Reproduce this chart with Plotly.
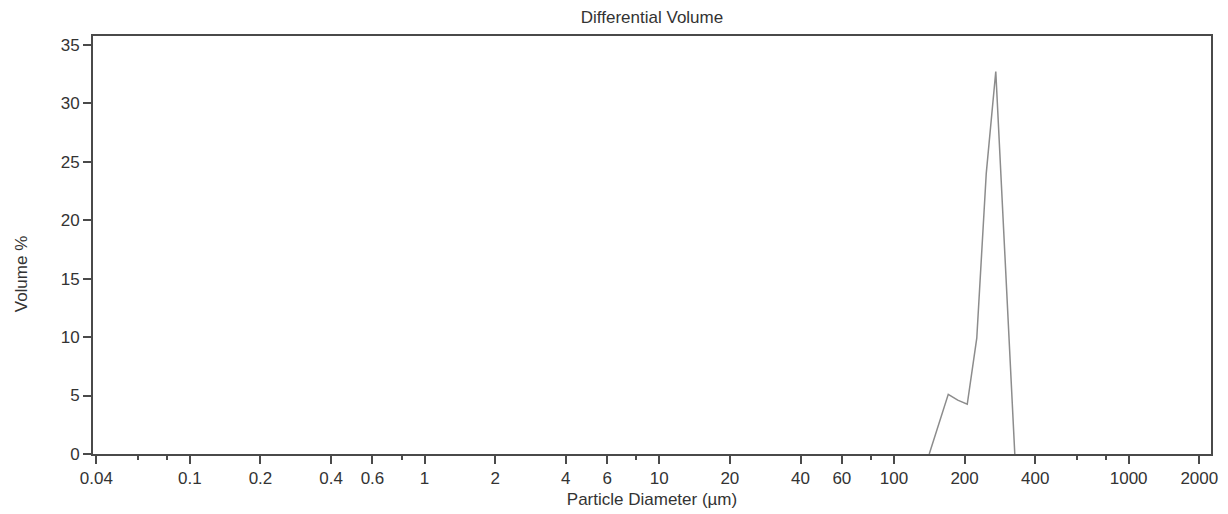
import plotly.graph_objects as go

# Data (particle diameter in µm, differential volume %)
diameter_um = [141.4, 155.2, 170.4, 187.0, 205.3, 225.4, 247.4, 271.6, 298.1, 327.3]
volume_pct = [0.0, 2.5, 5.1, 4.6, 4.25, 9.9, 24.0, 32.7, 16.4, 0.0]

x_tick_vals = [0.04, 0.1, 0.2, 0.4, 0.6, 1, 2, 4, 6, 10, 20, 40, 60, 100, 200, 400, 1000, 2000]
x_tick_text = ["0.04", "0.1", "0.2", "0.4", "0.6", "1", "2", "4", "6", "10", "20", "40", "60",
               "100", "200", "400", "1000", "2000"]
x_minor_vals = [0.06, 0.08, 0.8, 8, 80, 600, 800]
y_tick_vals = [0, 5, 10, 15, 20, 25, 30, 35]

FONT = "Liberation Sans, Arial, sans-serif"
FS = 17
AXIS_COLOR = "#4a4a4a"
TEXT_COLOR = "#333333"

fig = go.Figure()
fig.add_trace(go.Scatter(
    x=diameter_um, y=volume_pct, mode="lines",
    line=dict(color="#8c8c8c", width=1.5),
    showlegend=False, hoverinfo="x+y",
))

fig.update_layout(
    width=1220, height=506,
    margin=dict(l=85, r=17, t=28, b=60, autoexpand=False),
    paper_bgcolor="white", plot_bgcolor="white",
    font=dict(family=FONT, size=FS, color=TEXT_COLOR),
    title=dict(text="Differential Volume", x=0.5, xref="paper", xanchor="center",
               y=0.982, yref="container", yanchor="middle",
               font=dict(family=FONT, size=FS, color=TEXT_COLOR)),
    xaxis=dict(
        type="log", range=[-1.4124, 3.3509], autorange=False,
        tickmode="array", tickvals=x_tick_vals, ticktext=x_tick_text,
        ticks="outside", ticklen=8, tickwidth=1.5, tickcolor=AXIS_COLOR,
        minor=dict(tickmode="array", tickvals=x_minor_vals, ticks="outside",
                   ticklen=4, tickwidth=1.5, tickcolor=AXIS_COLOR, showgrid=False),
        showline=True, linecolor=AXIS_COLOR, linewidth=2, mirror=True,
        showgrid=False, zeroline=False,
        tickfont=dict(family=FONT, size=FS, color=TEXT_COLOR),
        title=dict(text="Particle Diameter (µm)", standoff=6,
                   font=dict(family=FONT, size=FS, color=TEXT_COLOR)),
    ),
    yaxis=dict(
        range=[0, 35.74], autorange=False,
        tickmode="array", tickvals=y_tick_vals,
        ticks="outside", ticklen=8, tickwidth=1.5, tickcolor=AXIS_COLOR,
        showline=True, linecolor=AXIS_COLOR, linewidth=2, mirror=True,
        showgrid=False, zeroline=False,
        tickfont=dict(family=FONT, size=FS, color=TEXT_COLOR),
    ),
    annotations=[dict(
        text="Volume %", textangle=-90, showarrow=False,
        xref="paper", x=0, xanchor="center", xshift=-72,
        yref="paper", y=0.43, yanchor="middle",
        font=dict(family=FONT, size=FS, color=TEXT_COLOR),
    )],
)

fig.write_html("out.html")
